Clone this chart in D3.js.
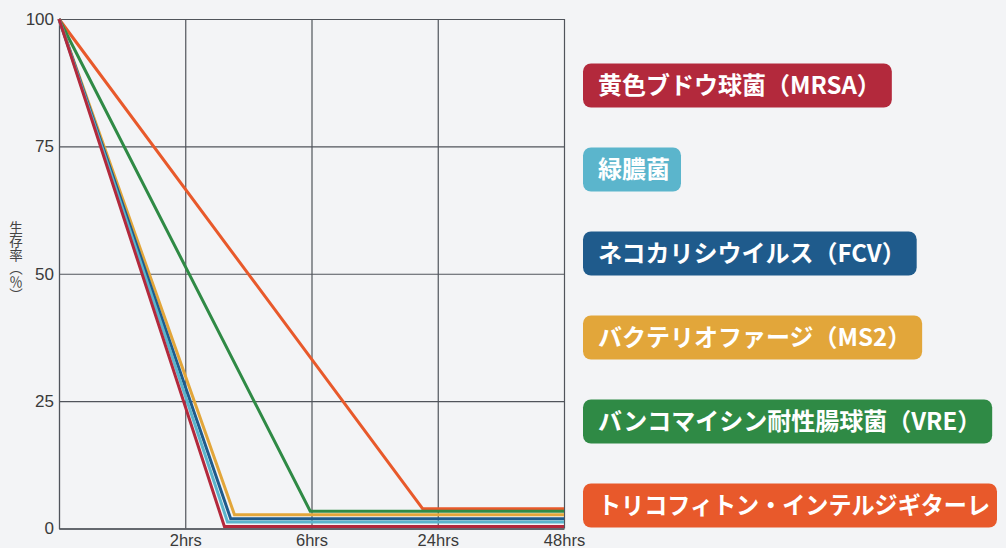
<!DOCTYPE html>
<html><head><meta charset="utf-8">
<script src="https://cdn.jsdelivr.net/npm/d3@7"></script>
<style>
body{margin:0;background:#f3f4f6;}
svg{display:block;}
</style>
</head><body>
<svg id="c" width="1006" height="548"></svg>
<script>
// ---- data ----
const timeLabels = ["0", "2hrs", "6hrs", "24hrs", "48hrs"];   // evenly spaced category positions
const timeTicks = [1, 2, 3, 4];
const yTicks = [0, 25, 50, 75, 100];
const seriesNames = [
  "黄色ブドウ球菌（MRSA）",
  "緑膿菌",
  "ネコカリシウイルス（FCV）",
  "バクテリオファージ（MS2）",
  "バンコマイシン耐性腸球菌（VRE）",
  "トリコフィトン・インテルジギターレ"
];
const seriesColors = ["#b3293c", "#5bb5cc", "#1f5b8c", "#e2a63a", "#2f8a45", "#e8592b"];
const startValue = 100;
// position (on the time axis, in category units) where each curve bottoms out
const dropPos = [1.31, 1.335, 1.36, 1.39, 1.99, 2.88];
// residual survival rate (%) after the drop
const residual = [0.4, 1.3, 1.9, 2.7, 3.4, 3.9];
const yLabel = "生存率（％）";

// ---- chart ----
const svg = d3.select("#c");
const x = d3.scaleLinear().domain([0, 4]).range([59, 564]);
const y = d3.scaleLinear().domain([0, 100]).range([528.5, 19]);
const gridColor = "#50545b";
const tickFont = "'Liberation Sans', Arial, sans-serif";

// y axis with gridlines
const gy = svg.append("g").attr("transform", `translate(${x(0)},0)`)
  .call(d3.axisLeft(y).tickValues(yTicks).tickSizeInner(-(x(4) - x(0))).tickSizeOuter(0).tickPadding(5));
gy.attr("font-size", null).attr("font-family", null);
gy.select(".domain").attr("stroke", gridColor).attr("stroke-width", 1.3);
gy.selectAll(".tick line").attr("stroke", gridColor).attr("stroke-width", 1.2);
gy.selectAll(".tick text").attr("fill", "#3a3a3a").attr("font-family", tickFont).attr("font-size", 17);

// x axis with gridlines
const gx = svg.append("g").attr("transform", `translate(0,${y(0)})`)
  .call(d3.axisBottom(x).tickValues(timeTicks).tickFormat(i => timeLabels[i]).tickSizeInner(-(y(0) - y(100))).tickSizeOuter(0).tickPadding(6));
gx.attr("font-size", null).attr("font-family", null);
gx.select(".domain").attr("stroke", gridColor).attr("stroke-width", 1.3);
gx.selectAll(".tick line").attr("stroke", gridColor).attr("stroke-width", 1.2);
gx.selectAll(".tick text").attr("fill", "#3a3a3a").attr("font-family", tickFont).attr("font-size", 16.5);

// y label (vertical writing)
svg.append("text")
  .attr("x", 16).attr("y", 221)
  .style("writing-mode", "vertical-rl")
  .style("text-orientation", "mixed")
  .attr("font-family", "'Noto Sans CJK JP', sans-serif")
  .attr("font-size", 13.5)
  .attr("fill", "#444")
  .text(yLabel);

// lines
const line = d3.line().x(d => x(d[0])).y(d => y(d[1]));
const series = seriesNames.map((n, i) => ({
  name: n, color: seriesColors[i],
  pts: [[0, startValue], [dropPos[i], residual[i]], [4, residual[i]]]
}));
svg.append("g").selectAll("path").data(series.slice().reverse()).join("path")
  .attr("d", d => line(d.pts))
  .attr("fill", "none")
  .attr("stroke", d => d.color)
  .attr("stroke-width", 3)
  .attr("stroke-linejoin", "miter");

// legend
const lg = svg.append("g").attr("transform", "translate(583,0)");
const maxBox = 414;
series.forEach((s, i) => {
  const cy = 85.5 + i * 84;
  const g = lg.append("g");
  const r = g.append("rect").attr("x", 0).attr("y", cy - 22).attr("height", 44).attr("rx", 8).attr("fill", s.color);
  const t = g.append("text").attr("x", 15).attr("y", cy).attr("dy", "0.36em")
    .attr("fill", "#fff")
    .attr("font-family", "'Noto Sans CJK JP', sans-serif")
    .attr("font-weight", 700)
    .attr("font-size", 24)
    .text(s.name);
  let w = t.node().getComputedTextLength();
  if (w + 26 > maxBox) {
    t.attr("textLength", maxBox - 22).attr("lengthAdjust", "spacingAndGlyphs");
    r.attr("width", maxBox);
  } else {
    r.attr("width", w + 26);
  }
});
</script>
</body></html>
